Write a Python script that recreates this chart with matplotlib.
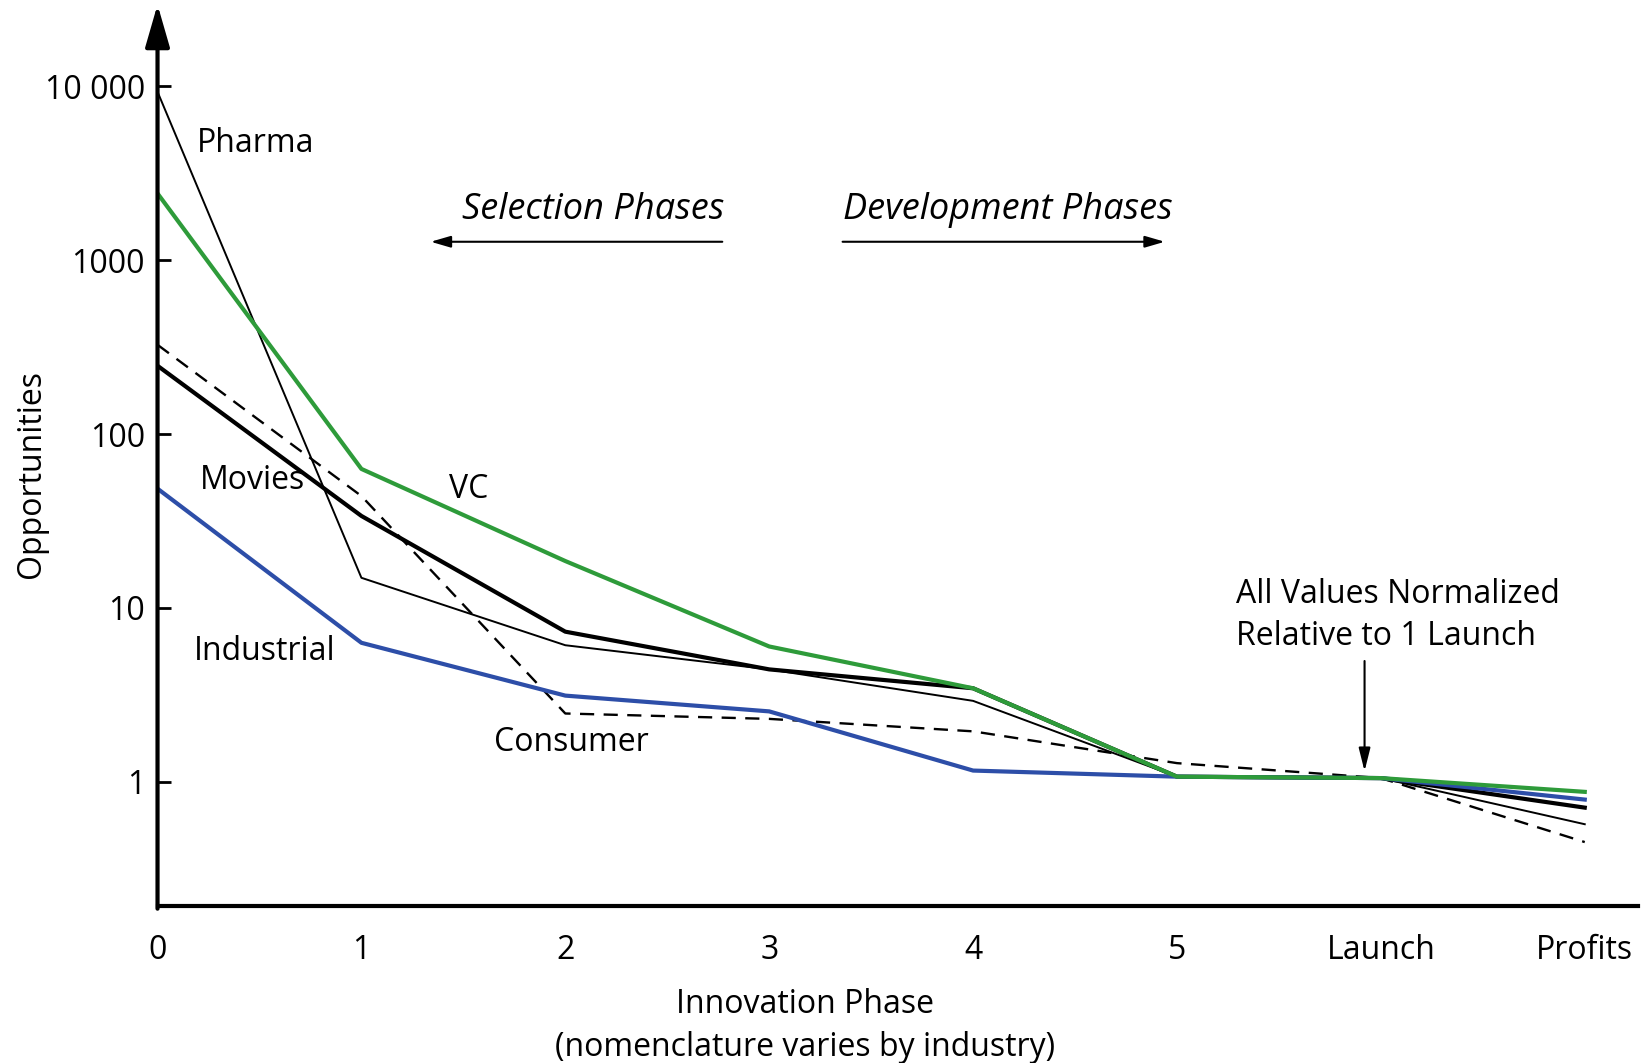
import matplotlib
matplotlib.use("Agg")
import matplotlib.pyplot as plt

# 数据
phases = ["0", "1", "2", "3", "4", "5", "Launch", "Profits"]
pharma = [9300, 14.9, 6.1, 4.43, 2.92, 1.07, 1.05, 0.57]
vc = [2420, 63, 18.6, 6.0, 3.45, 1.07, 1.05, 0.875]
movies = [247, 33.8, 7.3, 4.43, 3.45, 1.07, 1.05, 0.71]
consumer = [326, 44, 2.47, 2.3, 1.95, 1.28, 1.05, 0.45]
industrial = [48.5, 6.3, 3.13, 2.54, 1.16, 1.07, 1.05, 0.79]

ytick_vals = [1, 10, 100, 1000, 10000]
ytick_labels = ["1", "10", "100", "1000", "10 000"]

plt.rcParams["font.family"] = ["Open Sans", "DejaVu Sans"]
FS = 23

fig = plt.figure(figsize=(16.46, 10.63), dpi=100)
ax = fig.add_axes([0.0957, 0.1477, 0.8993, 0.848])

xs = list(range(len(phases)))
green = "#2e9b3a"
blue = "#2d4ea8"

ax.plot(xs, pharma, color="black", lw=1.4)
ax.plot(xs, consumer, color="black", lw=1.7, dashes=(6, 4))
ax.plot(xs, movies, color="black", lw=3.0)
ax.plot(xs, industrial, color=blue, lw=3.0)
ax.plot(xs, vc, color=green, lw=3.0)

ax.set_yscale("log")
ax.set_ylim(0.193, 10 ** 4.47)
ax.set_xlim(0, 7.26)

ax.set_yticks(ytick_vals)
ax.set_yticklabels(ytick_labels, fontsize=FS)
ax.minorticks_off()
ax.tick_params(axis="y", direction="in", length=9, width=2, pad=9)
ax.set_xticks(xs)
ax.set_xticklabels(phases, fontsize=FS)
ax.tick_params(axis="x", length=0, pad=20)

for s in ["top", "right", "left"]:
    ax.spines[s].set_visible(False)
ax.spines["bottom"].set_linewidth(3)

# y 轴箭头
ax.annotate("", xy=(0, 1), xytext=(0, -0.003), xycoords="axes fraction",
            arrowprops=dict(arrowstyle="-|>,head_length=2.6,head_width=0.75",
                            lw=3, color="black", shrinkA=0, shrinkB=0,
                            mutation_scale=10))

# 标签
ax.text(0.194, 4700, "Pharma", fontsize=FS, va="center")
ax.text(1.43, 48, "VC", fontsize=FS, va="center")
ax.text(0.206, 54, "Movies", fontsize=FS, va="center")
ax.text(0.18, 5.6, "Industrial", fontsize=FS, va="center")
ax.text(1.65, 1.68, "Consumer", fontsize=FS, va="center")

ax.text(2.78, 1950, "Selection Phases", fontsize=26, style="italic",
        ha="right", va="center")
ax.annotate("", xy=(1.34, 1276), xytext=(2.77, 1276),
            arrowprops=dict(arrowstyle="-|>,head_length=1.2,head_width=0.35",
                            lw=1.5, color="black", shrinkA=0, shrinkB=0))
ax.text(3.36, 1950, "Development Phases", fontsize=26, style="italic",
        ha="left", va="center")
ax.annotate("", xy=(4.94, 1276), xytext=(3.36, 1276),
            arrowprops=dict(arrowstyle="-|>,head_length=1.2,head_width=0.35",
                            lw=1.5, color="black", shrinkA=0, shrinkB=0))

ax.text(5.29, 9.0, "All Values Normalized\nRelative to 1 Launch", fontsize=FS,
        va="center", linespacing=1.35)
ax.annotate("", xy=(5.92, 1.15), xytext=(5.92, 4.95),
            arrowprops=dict(arrowstyle="-|>,head_length=1.4,head_width=0.35",
                            lw=1.5, color="black", shrinkA=0, shrinkB=0))

fig.text(0.489, 0.035, "Innovation Phase\n(nomenclature varies by industry)",
         fontsize=FS, ha="center", va="center", linespacing=1.4)
fig.text(0.019, 0.554, "Opportunities", fontsize=FS, rotation=90,
         ha="center", va="center")

fig.savefig("out.png", dpi=100)
